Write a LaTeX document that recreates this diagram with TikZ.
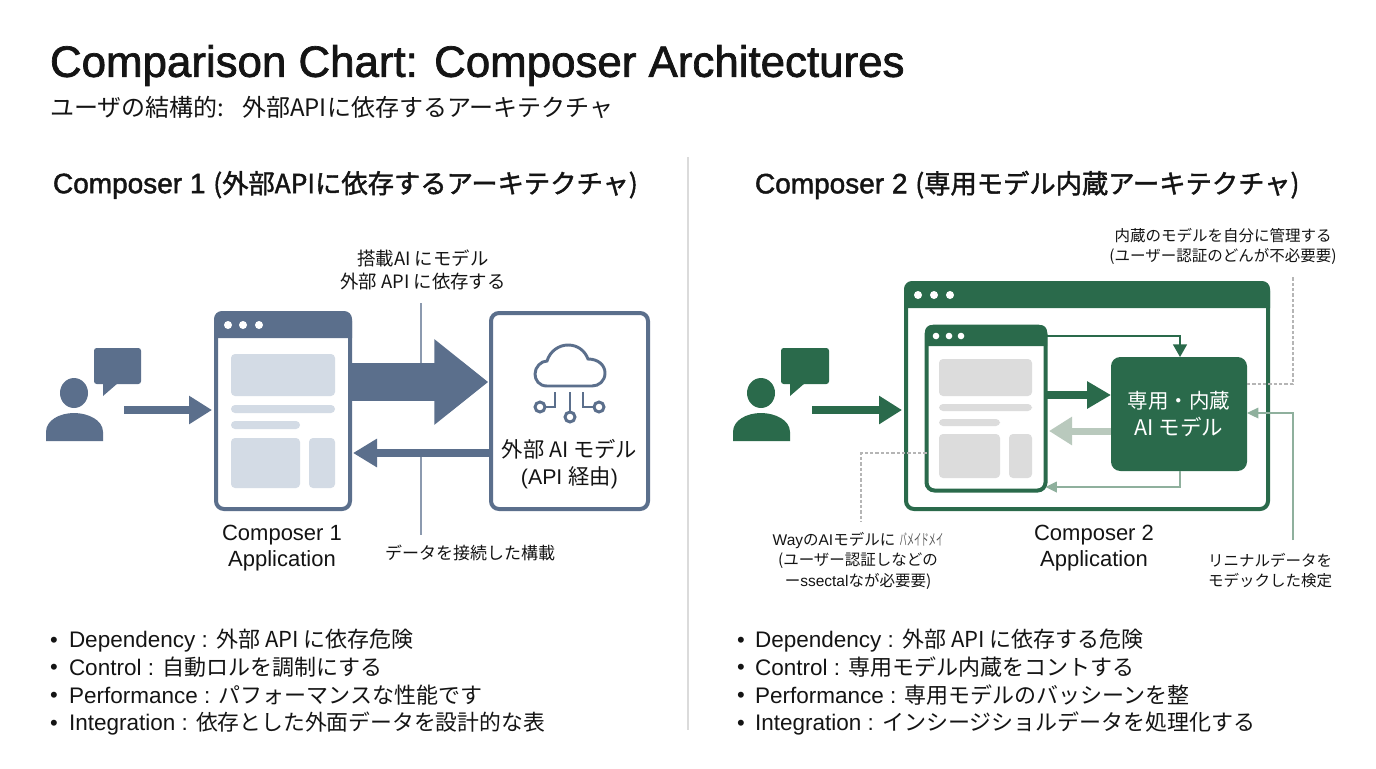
\documentclass[tikz,border=0pt]{standalone}
\usepackage{fontspec}
\usetikzlibrary{arrows.meta}
\setmainfont{Liberation Sans}
\newfontfamily\jafont{Noto Sans CJK JP}
\newfontfamily\jamed[FakeBold=1.6]{Noto Sans CJK JP}
\newfontfamily\latmed[FakeBold=1.6]{Liberation Sans}
\newcommand{\J}[1]{{\jafont #1}}
\newcommand{\fsz}[1]{\pgfmathsetmacro\fszv{#1*0.75}\fontsize{\fszv}{\fszv}\selectfont}
\definecolor{slate}{HTML}{5B6F8C}
\definecolor{slatelight}{HTML}{D3DBE5}
\definecolor{forest}{HTML}{2A6A4B}
\definecolor{sage}{HTML}{8FB09D}
\definecolor{sagelight}{HTML}{B9C9BD}
\definecolor{phgray}{HTML}{DCDCDC}
\definecolor{inkc}{HTML}{141414}
\tikzset{
  lbl/.style={inner sep=0pt,outer sep=0pt,text=inkc,align=center},
  lft/.style={lbl,anchor=west,align=left},
  winbox/.style n args={3}{draw=#3,fill=white,line width=3pt,rounded corners=6pt,
    minimum width=#1*0.75pt,minimum height=#2*0.75pt,inner sep=0pt,outer sep=0pt},
  flatbox/.style n args={3}{fill=#3,rounded corners=7pt,
    minimum width=#1*0.75pt,minimum height=#2*0.75pt,inner sep=0pt,outer sep=0pt,text=white,align=center},
  block/.style n args={4}{draw=#1,line width=#2*0.75pt,
    -{Triangle[length=#3*0.75pt,width=#4*0.75pt,fill=#1]}},
  guide/.style={draw=#1,line width=0.8pt},
  dashguide/.style={draw=gray!58,line width=0.8pt,dash pattern=on 2.5pt off 1.5pt},
  iconline/.style={draw=slate,line width=2.2pt},
}
\begin{document}
\begin{tikzpicture}[x=0.75pt,y=-0.75pt]
\useasboundingbox (0,0) rectangle (1376,768);
\fill[white] (0,0) rectangle (1376,768);

% titles
\node[lft] (title) at (50,65.5) {\fsz{43.85}\latmed Comparison Chart: Composer Architectures};
\node[lft] (subtitle) at (50,107) {\fsz{24}\J{ユーザの結構的:\hspace{13.5pt}外部APIに依存するアーキテクチャ}};
\node[lft] (head1) at (53,185) {\fsz{28}\latmed Composer 1 \fsz{26.3}\jamed (外部APIに依存するアーキテクチャ)};
\node[lft] (head2) at (755,185) {\fsz{28}\latmed Composer 2 \fsz{26.3}\jamed (専用モデル内蔵アーキテクチャ)};
\coordinate (divtop) at (688,157);
\coordinate (divbot) at (688,730);
\draw[draw=black!14,line width=0.8pt] (divtop) -- (divbot);

% ---------- left diagram
\coordinate (lguidetop) at (421,303);
\coordinate (lguidemid) at (421,365);
\coordinate (lguidelow) at (421,457);
\coordinate (lguidebot) at (421,535);
\draw[guide=slate!70] (lguidetop) -- (lguidemid);
\draw[guide=slate!70] (lguidelow) -- (lguidebot);

% person 1
\fill[slate] (46,441) -- (46,432) .. controls (46,420) and (60,413) .. (74,413) .. controls (88,413) and (103,420) .. (103,432) -- (103,441) -- cycle;
\fill[slate] (74,393) ellipse [x radius=14,y radius=15];
\fill[slate,rounded corners=2pt] (94,348) -- (141,348) -- (141,384) -- (94,384) -- cycle;
\fill[slate] (103,383) -- (103,396) -- (118,383) -- cycle;

% app 1
\node[winbox={134}{196}{slate}] (app1) at (283,411) {};
\fill[slate] (214,338) [rounded corners=6pt] -- (214,311) -- (352,311) [sharp corners] -- (352,338) -- cycle;
\foreach \dx in {228,243,259} \fill[white] (\dx,325) circle [radius=4];
\fill[slatelight,rounded corners=3pt] (231,354) rectangle (335,396);
\fill[slatelight,rounded corners=3pt] (231,405) rectangle (335,413);
\fill[slatelight,rounded corners=3pt] (231,421) rectangle (300,429);
\fill[slatelight,rounded corners=3pt] (231,438) rectangle (300,488);
\fill[slatelight,rounded corners=3pt] (309,438) rectangle (335,488);

% external AI box
\node[winbox={157}{196}{slate}] (ext) at (569.5,411) {};
\begin{scope}[shift={(-2,0)}]
\draw[iconline] (549,386) .. controls (541,386) and (537,380) .. (537,374) .. controls (537,367) and (543,361) .. (549,361) .. controls (552,351) and (561,345) .. (570,345) .. controls (580,345) and (587,351) .. (590,359) .. controls (600,359) and (607,365) .. (607,373) .. controls (607,381) and (601,386) .. (594,386) -- cycle;
\draw[iconline] (572,392) -- (572,412);
\draw[iconline] (557,392) -- (557,407) -- (547,407);
\draw[iconline] (585,392) -- (585,407) -- (596,407);
\draw[iconline] (572,417) circle [radius=5];
\draw[iconline] (542,407) circle [radius=5];
\draw[iconline] (601,407) circle [radius=5];
\end{scope}
\node[lbl] (extlabel) at (569.5,464) {\fsz{21.3}\J{外部 AI モデル}\\[4.5pt]\fsz{21.3}(API \J{経由})};

% left arrows
\coordinate (u1out) at (124,410);
\draw[block={slate}{8}{23}{27},shorten >=3pt] (u1out) -- (app1.west |- u1out);
\coordinate (bigy) at (352,382);
\draw[block={slate}{38}{54}{82},shorten >=2pt] (app1.east |- bigy) -- (ext.west |- bigy);
\coordinate (rety) at (353,453);
\draw[block={slate}{8}{24}{27}] (ext.west |- rety) -- (rety);

\node[lbl] (app1label) at (282,548) {\fsz{22}Composer 1\\[3pt]\fsz{22}Application};
\node[lbl] (topnote) at (423,269.5) {\fsz{18.4}\J{搭載AI にモデル}\\[3.5pt]\fsz{18.4}\J{外部 API に依存する}};
\node[lbl] (botnote) at (470,553) {\fsz{17}\J{データを接続した構載}};

% ---------- right diagram
% person 2
\fill[forest] (733,441) -- (733,432) .. controls (733,420) and (747,413) .. (761,413) .. controls (775,413) and (790,420) .. (790,432) -- (790,441) -- cycle;
\fill[forest] (761,393) ellipse [x radius=14,y radius=15];
\fill[forest,rounded corners=2pt] (781,348) -- (829,348) -- (829,384) -- (781,384) -- cycle;
\fill[forest] (790,383) -- (790,396) -- (805,383) -- cycle;

% outer window
\node[winbox={362}{226}{forest}] (outer) at (1087,396) {};
\fill[forest] (904,308) [rounded corners=6pt] -- (904,281) -- (1270,281) [sharp corners] -- (1270,308) -- cycle;
\foreach \dx in {918,934,950} \fill[white] (\dx,295) circle [radius=4];

% dashed guides
\coordinate (dtop) at (1293,277);
\coordinate (dleft) at (861,521);

% inner window
\node[winbox={119}{164}{forest}] (inner) at (986,408.5) {};
\fill[forest] (925,346) [rounded corners=5pt] -- (925,325) -- (1047,325) [sharp corners] -- (1047,346) -- cycle;
\foreach \dx in {936,949,961} \fill[white] (\dx,336) circle [radius=3.3];
\fill[phgray,rounded corners=3pt] (939,359) rectangle (1032,396);
\fill[phgray,rounded corners=3pt] (939,404) rectangle (1032,411);
\fill[phgray,rounded corners=3pt] (939,419) rectangle (1000,426);
\fill[phgray,rounded corners=3pt] (939,434) rectangle (1000,478);
\fill[phgray,rounded corners=3pt] (1009,434) rectangle (1032,478);

% AI core
\node[flatbox={136}{114}{forest}] (core) at (1179,414) {\fsz{20.5}\J{専用・内蔵}\\[4pt]\fsz{21.5}\J{AI モデル}};

\coordinate (dry) at (1293,384);
\draw[dashguide] (core.east |- dry) -- (dry) -- (dtop);
\coordinate (dly) at (861,453);
\draw[dashguide] (inner.west |- dly) -- (dly) -- (dleft);

% right arrows
\coordinate (u2out) at (812,410);
\draw[block={forest}{8}{23}{27},shorten >=3pt] (u2out) -- (outer.west |- u2out);
\coordinate (mida) at (1047,395);
\draw[block={forest}{8}{24}{26}] (mida) -- (core.west |- mida);
\coordinate (lighta) at (1049,431);
\draw[block={sagelight}{7}{23}{27}] (core.west |- lighta) -- (lighta);
\coordinate (tbend) at (1180,336);
\draw[forest,line width=1.2pt,-{Triangle[length=9.5pt,width=10.5pt,fill=forest]}] (inner.east |- tbend) -- (tbend) -- (tbend |- core.north);
\coordinate (bbend) at (1180,487);
\draw[sage,line width=1.2pt,-{Triangle[length=8.5pt,width=8pt,fill=sage]}] (bbend |- core.south) -- (bbend) -- (inner.east |- bbend);
\coordinate (gfree) at (1293,540);
\coordinate (gbend) at (1293,413);
\draw[sage,line width=0.9pt,-{Triangle[length=8.5pt,width=8pt,fill=sage]}] (gfree) -- (gbend) -- (core.east |- gbend);

\node[lbl] (app2label) at (1094,548) {\fsz{22}Composer 2\\[3pt]\fsz{22}Application};
\node[lbl] (note2a) at (1223,246) {\fsz{15.5}\J{内蔵のモデルを自分に管理する}\\[3pt]\fsz{15.5}\J{(ユーザー認証のどんが不必要要)}};
\node[lbl] (note2b) at (858,561) {\fsz{15.5}Way\J{の}AI\J{モデルに} {\color{inkc!75}\scalebox{0.47}[1]{\J{バメイドメイ}}}\\[3pt]\fsz{15.5}\J{(ユーザー認証しなどの}\\[3pt]\fsz{15.5}\J{ー}ssectal\J{なが必要要)}};
\node[lbl] (note2c) at (1270,571) {\fsz{15.5}\J{リニナルデータを}\\[3pt]\fsz{15.5}\J{モデックした検定}};

% ---------- bullet lists
\foreach \yy/\nm/\txt in {
 640/la/{Dependency : \J{\fsz{22}外部 API に依存危険}},
 667/lb/{Control : \J{\fsz{22}自動ロルを調制にする}},
 695/lc/{Performance : \J{\fsz{22}パフォーマンスな性能です}},
 723/ld/{Integration : \J{\fsz{21.8}依存とした外面データを設計的な表}}}{
  \node[lft] (bul\nm) at (50,\yy+2) {\fsz{22}•};
  \node[lft] (\nm) at (69,\yy+0.5) {\fsz{22.5}\txt};
}
\foreach \yy/\nm/\txt in {
 640/ra/{Dependency : \J{\fsz{22}外部 API に依存する危険}},
 667/rb/{Control : \J{\fsz{22}専用モデル内蔵をコントする}},
 695/rc/{Performance : \J{\fsz{22}専用モデルのバッシーンを整}},
 723/rd/{Integration : \J{\fsz{22}インシージショルデータを処理化する}}}{
  \node[lft] (bul\nm) at (737,\yy+2) {\fsz{22}•};
  \node[lft] (\nm) at (755,\yy+0.5) {\fsz{22.5}\txt};
}
\end{tikzpicture}
\end{document}
